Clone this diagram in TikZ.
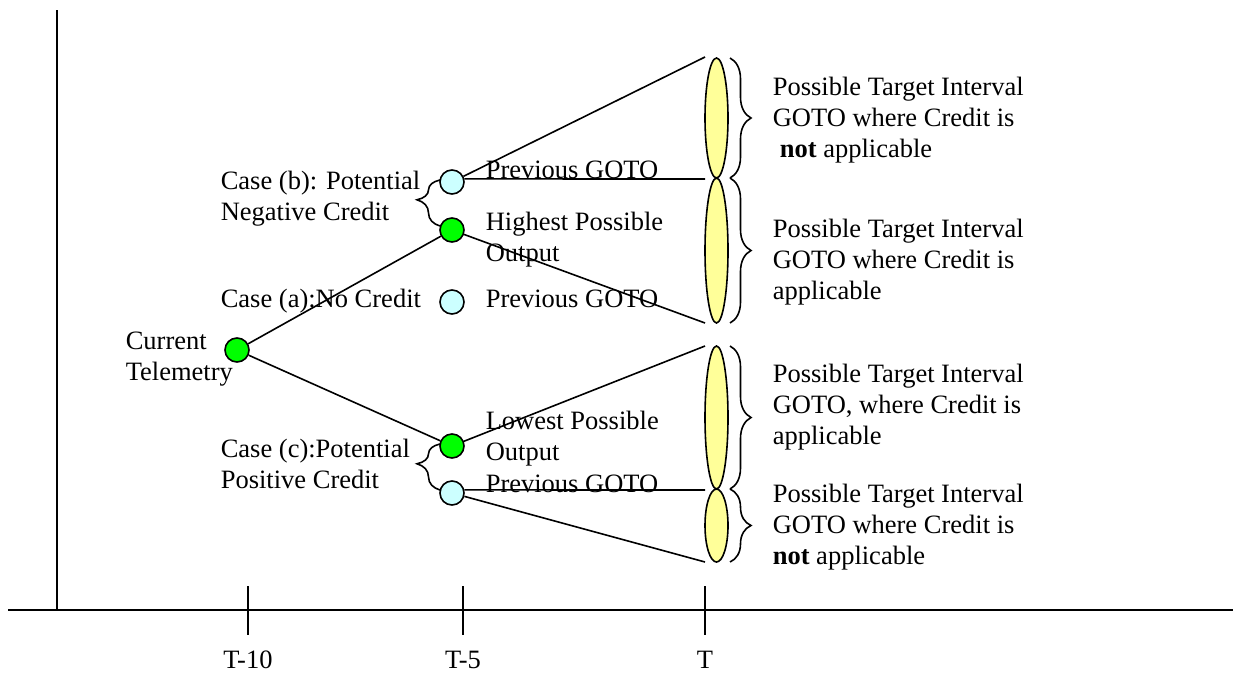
\documentclass[tikz,border=0pt]{standalone}
\usepackage{fontspec}
\setmainfont{Liberation Serif}
\usetikzlibrary{decorations.pathreplacing,shapes.geometric}
\definecolor{dotgreen}{RGB}{0,255,0}
\definecolor{dotcyan}{RGB}{204,255,255}
\definecolor{lobeyellow}{RGB}{255,255,153}
\begin{document}
\begin{tikzpicture}[x=1pt,y=-1pt,line width=1.6pt,
  dot/.style={circle,draw,line width=1.6pt,minimum size=24pt,inner sep=0pt},
  gdot/.style={dot,fill=dotgreen},
  cdot/.style={dot,fill=dotcyan},
  lobe/.style={ellipse,draw,fill=lobeyellow,line width=1.6pt,minimum width=23pt,inner sep=0pt},
  lbl/.style={font=\fontsize{26.5}{31}\selectfont,align=left,inner sep=0pt,anchor=base west},
  tlbl/.style={font=\fontsize{26.5}{31}\selectfont,inner sep=0pt,anchor=base},
  rbrace/.style={decorate,decoration={brace,amplitude=21pt}},
  lbrace/.style={decorate,decoration={brace,amplitude=23pt,aspect=0.57}}]
\useasboundingbox (0,0) rectangle (1233,673);
% axes
\coordinate (ytop) at (57,10);
\coordinate (ybot) at (57,610);
\coordinate (xl) at (8,610);
\coordinate (xr) at (1233,610);
\draw (ytop) -- (ybot);
\draw (xl) -- (xr);
\foreach \x/\n/\t in {248/a/T-10,463/b/T-5,705/c/T}{
  \coordinate (tk\n1) at (\x,586);
  \coordinate (tk\n2) at (\x,635);
  \draw (tk\n1) -- (tk\n2);
  \node[tlbl] (tl\n) at (\x,668) {\t};
}
% nodes
\node[gdot] (cur) at (237,350) {};
\node[cdot] (pb) at (452,182) {};
\node[gdot] (hi) at (452,230) {};
\node[cdot] (pa) at (452,302) {};
\node[gdot] (lo) at (452,446) {};
\node[cdot] (pc) at (452,493) {};
% connector ends
\coordinate (t1) at (705,57);
\coordinate (t2) at (705,179);
\coordinate (t3) at (705,323);
\coordinate (t4) at (705,346);
\coordinate (t5) at (705,490);
\coordinate (t6) at (705,562);
\draw (cur) -- (hi);
\draw (cur) -- (lo);
\draw (pb) -- (t1);
\draw (pb.14) -- (t2);
\draw (hi) -- (t3);
\draw (lo) -- (t4);
\draw (pc.14) -- (t5);
\draw (pc) -- (t6);
% lobes
\node[lobe,minimum height=120pt] (e1) at (716.5,118) {};
\node[lobe,minimum height=145pt] (e2) at (716.5,250.5) {};
\node[lobe,minimum height=143pt] (e3) at (716.5,417.5) {};
\node[lobe,minimum height=73pt] (e4) at (716.5,525.5) {};
% braces
\draw[rbrace] (730,58) -- (730,178);
\draw[rbrace] (730,178) -- (730,323);
\draw[rbrace] (730,346) -- (730,489);
\draw[rbrace] (730,489) -- (730,562);
\draw[lbrace] (440,226) -- (440,180);
\draw[lbrace] (440,490) -- (440,444);
% labels (base anchor = baseline of last line)
\node[lbl] (lb) at (220,220) {Case (b): Potential\\Negative Credit};
\node[lbl] (la) at (220,307) {Case (a):No Credit};
\node[lbl] (lcur) at (125,380) {Current\\Telemetry};
\node[lbl] (lc) at (220,488) {Case (c):Potential\\Positive Credit};
\node[lbl] (npb) at (485,178) {Previous GOTO};
\node[lbl] (nhi) at (485,261) {Highest Possible\\Output};
\node[lbl] (npa) at (485,307) {Previous GOTO};
\node[lbl] (nlo) at (485,460) {Lowest Possible\\Output};
\node[lbl] (npc) at (485,492) {Previous GOTO};
\node[lbl] (r1) at (772,157) {Possible Target Interval\\GOTO where Credit is\\\hspace{7pt}\textbf{not} applicable};
\node[lbl] (r2) at (772,299) {Possible Target Interval\\GOTO where Credit is\\applicable};
\node[lbl] (r3) at (772,444) {Possible Target Interval\\GOTO, where Credit is\\applicable};
\node[lbl] (r4) at (772,564) {Possible Target Interval\\GOTO where Credit is\\\textbf{not} applicable};
\end{tikzpicture}
\end{document}
